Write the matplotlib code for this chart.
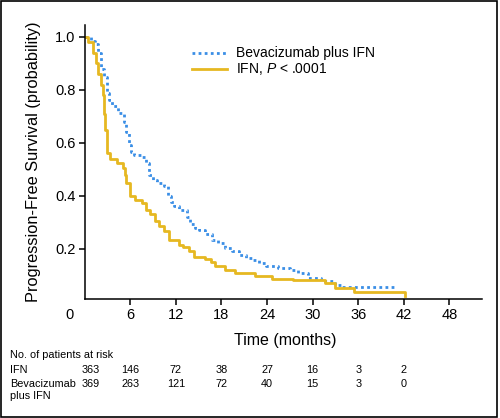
import matplotlib
matplotlib.use("Agg")
from matplotlib import pyplot as plt

plt.rcParams['font.family'] = ['Liberation Sans', 'DejaVu Sans']
plt.rcParams['mathtext.fontset'] = 'custom'
plt.rcParams['mathtext.rm'] = 'Liberation Sans'
plt.rcParams['mathtext.it'] = 'Liberation Sans:italic'

# Kaplan-Meier curves (months, probability)
ifn_t = [0, 0.5, 1.1, 1.5, 1.8, 2.1, 2.35, 2.5, 2.65, 2.87,
         3.3, 4.2, 5.0, 5.3, 5.5, 5.9, 6.6, 7.6, 8.1, 8.6,
         9.2, 9.8, 10.5, 11.1, 12.4, 13.0, 13.7, 14.4, 15.9, 16.6,
         17.2, 18.5, 19.8, 22.4, 24.6, 27.4, 31.6, 32.9, 35.5, 42.2]
ifn_s = [1.0, 0.98, 0.94, 0.90, 0.86, 0.82, 0.78, 0.71, 0.65, 0.56,
         0.54, 0.523, 0.505, 0.48, 0.448, 0.40, 0.385, 0.372, 0.345, 0.33,
         0.303, 0.285, 0.265, 0.234, 0.215, 0.205, 0.19, 0.17, 0.161, 0.15,
         0.133, 0.121, 0.108, 0.0955, 0.0857, 0.080, 0.0706, 0.052, 0.037, 0.02]

bev_t = [0, 0.8, 1.3, 1.8, 2.2, 2.6, 2.9, 3.2, 3.6, 4.4,
         5.2, 5.5, 5.8, 6.1, 6.5, 7.4, 8.1, 8.5, 9.0, 9.5,
         10.5, 10.9, 11.3, 11.7, 12.4, 13.5, 13.8, 14.5, 15.0, 15.8,
         16.8, 17.6, 18.5, 19.4, 20.3, 21.2, 22.0, 22.9, 23.9, 25.5,
         27.0, 28.1, 29.4, 31.1, 32.9, 33.9, 41.1]
bev_s = [1.0, 0.985, 0.975, 0.94, 0.88, 0.85, 0.79, 0.76, 0.74, 0.712,
         0.68, 0.64, 0.59, 0.565, 0.555, 0.548, 0.523, 0.48, 0.46, 0.448,
         0.435, 0.40, 0.375, 0.36, 0.345, 0.32, 0.295, 0.28, 0.27, 0.255,
         0.234, 0.22, 0.203, 0.19, 0.177, 0.165, 0.158, 0.145, 0.135, 0.127,
         0.121, 0.108, 0.089, 0.077, 0.064, 0.054, 0.054]

# patients at risk table
risk_times = [0, 6, 12, 18, 24, 30, 36, 42]
risk_ifn = [363, 146, 72, 38, 27, 16, 3, 2]
risk_bev = [369, 263, 121, 72, 40, 15, 3, 0]

x_ticks = [6, 12, 18, 24, 30, 36, 42, 48]
y_ticks = [0.2, 0.4, 0.6, 0.8, 1.0]

blue = "#3A8EE6"
gold = "#E6B821"

fig = plt.figure(figsize=(5, 4.18), dpi=100)
ax = fig.add_axes([0.1694, 0.2847, 0.7946, 0.6555])

ax.plot(bev_t, bev_s, drawstyle='steps-post', color=blue, lw=2,
        linestyle=(0, (1, 1.2)), label='Bevacizumab plus IFN')
ax.plot(ifn_t, ifn_s, drawstyle='steps-post', color=gold, lw=2,
        label='IFN, $P$ < .0001')

ax.set_xlim(0, 52.3)
ax.set_ylim(0.01, 1.045)
ax.set_xticks(x_ticks)
ax.set_yticks(y_ticks)
ax.set_yticklabels([f"{v:.1f}" for v in y_ticks])
ax.tick_params(labelsize=10.5, length=4.5, width=1.1, pad=2)
for side in ['top', 'right']:
    ax.spines[side].set_visible(False)
for side in ['left', 'bottom']:
    ax.spines[side].set_linewidth(1.1)

fig.text(70 / 500, 1 - 315 / 418, "0", ha='center', va='center', fontsize=10.5)
ax.set_ylabel("Progression-Free Survival (probability)", fontsize=11.8, labelpad=10)
fig.text(285 / 500, 1 - 341 / 418, "Time (months)", ha='center', va='center', fontsize=11.5)

ax.legend(loc='upper left', bbox_to_anchor=(0.27, 0.922), frameon=False,
          fontsize=10, handlelength=2.5, handletextpad=0.65,
          labelspacing=0.08, borderpad=0, borderaxespad=0)

# risk table
fs = 7.8
fig.text(10 / 500, 1 - 355 / 418, "No. of patients at risk", fontsize=fs, va='center')
fig.text(10 / 500, 1 - 370 / 418, "IFN", fontsize=fs, va='center')
fig.text(10 / 500, 1 - 384 / 418, "Bevacizumab", fontsize=fs, va='center')
fig.text(10 / 500, 1 - 396 / 418, "plus IFN", fontsize=fs, va='center')
for t, a, b in zip(risk_times, risk_ifn, risk_bev):
    x = fig.transFigure.inverted().transform(ax.transData.transform((t, 0.5)))[0]
    if t == 0:
        x += 6 / 500
    fig.text(x, 1 - 370 / 418, str(a), fontsize=fs, ha='center', va='center')
    fig.text(x, 1 - 384 / 418, str(b), fontsize=fs, ha='center', va='center')

fig.add_artist(plt.Rectangle((0.002, 0.002), 0.992, 0.996, transform=fig.transFigure,
                             fill=False, lw=1.2, edgecolor='black'))

fig.savefig("out.png", dpi=100)
